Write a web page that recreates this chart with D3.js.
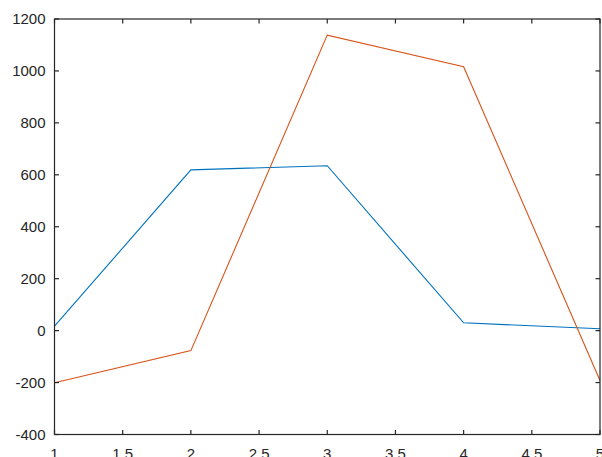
<!DOCTYPE html>
<html><head><meta charset="utf-8">
<script src="https://cdn.jsdelivr.net/npm/d3@7"></script>
<style>body{margin:0;background:#fff}svg{display:block}</style>
</head><body>
<script>
const xs = [1, 2, 3, 4, 5];
const series1 = [17, 619, 635, 30, 7];
const series2 = [-201, -77, 1138, 1016, -192];
const xTicks = [1, 1.5, 2, 2.5, 3, 3.5, 4, 4.5, 5];
const yTicks = [-400, -200, 0, 200, 400, 600, 800, 1000, 1200];

const W = 602, H = 457;
const L = 54.5, R = 600, T = 19, B = 434.5;
const svg = d3.select("body").append("svg").attr("width", W).attr("height", H);
const x = d3.scaleLinear().domain([1, 5]).range([L, R]);
const y = d3.scaleLinear().domain([-400, 1200]).range([B, T]);
const font = "'Liberation Sans', Arial, sans-serif";
const axCol = "#262626";

const line = d3.line().x((d, i) => x(xs[i])).y(d => y(d));
svg.append("path").datum(series1).attr("d", line).attr("fill", "none")
  .attr("stroke", "#0072BD").attr("stroke-width", 1.1);
svg.append("path").datum(series2).attr("d", line).attr("fill", "none")
  .attr("stroke", "#D95319").attr("stroke-width", 1.1);

const tl = 4.5;
const g = svg.append("g").attr("stroke", axCol).attr("stroke-width", 1.2).attr("fill", "none");
g.append("rect").attr("x", L).attr("y", T).attr("width", R - L).attr("height", B - T);
xTicks.forEach(t => {
  g.append("line").attr("x1", x(t)).attr("x2", x(t)).attr("y1", B).attr("y2", B - tl);
  g.append("line").attr("x1", x(t)).attr("x2", x(t)).attr("y1", T).attr("y2", T + tl);
});
yTicks.forEach(t => {
  g.append("line").attr("y1", y(t)).attr("y2", y(t)).attr("x1", L).attr("x2", L + tl);
  g.append("line").attr("y1", y(t)).attr("y2", y(t)).attr("x1", R).attr("x2", R - tl);
});

svg.append("g").selectAll("text").data(yTicks).join("text")
  .attr("x", L - 9).attr("y", d => y(d)).attr("dy", "0.36em")
  .attr("text-anchor", "end").attr("font-family", font).attr("font-size", 15)
  .attr("fill", axCol).text(d => d);
svg.append("g").selectAll("text").data(xTicks).join("text")
  .attr("x", d => x(d)).attr("y", 459)
  .attr("text-anchor", "middle").attr("font-family", font).attr("font-size", 15)
  .attr("fill", axCol).text(d => d);
</script>
</body></html>
